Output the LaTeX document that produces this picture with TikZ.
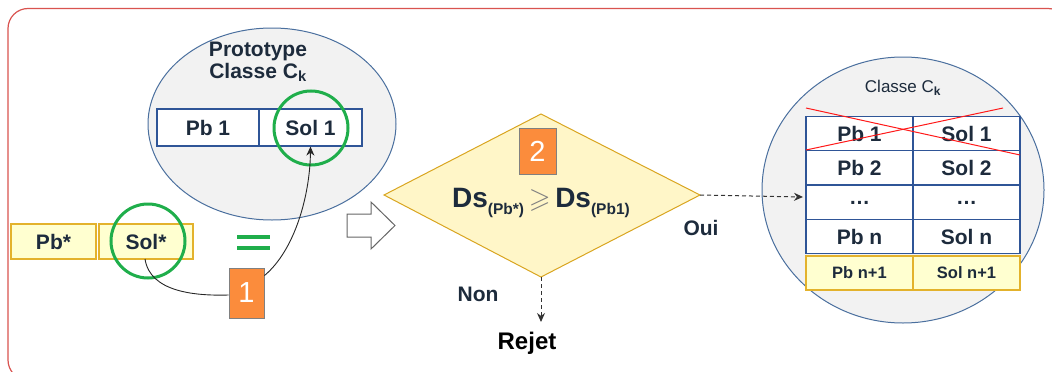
\documentclass[tikz,border=0pt]{standalone}
\usepackage{fontspec}
\setmainfont{Liberation Sans}
\usepackage{amssymb}
\usetikzlibrary{arrows.meta}
\definecolor{txt}{HTML}{1D2B3C}
\definecolor{orng}{HTML}{FB8C3C}
\definecolor{grn}{HTML}{1FAE4B}
\definecolor{yfill}{HTML}{FFFFD0}
\definecolor{ybord}{HTML}{E3B22C}
\definecolor{dfill}{HTML}{FFF6C8}
\definecolor{dbord}{HTML}{D9A520}
\definecolor{efill}{HTML}{F2F2F2}
\definecolor{ebord}{HTML}{4A6F9E}
\definecolor{tbord}{HTML}{2F5597}
\definecolor{frame}{HTML}{D9534F}
\newcommand{\threedots}{\ldots}
\begin{document}
\begin{tikzpicture}[x=1pt,y=-1pt,
  bigtxt/.style={font=\bfseries\fontsize{21}{25}\selectfont, text=txt},
  cell/.style={draw=tbord, line width=1.2pt, fill=white, inner sep=0pt, bigtxt},
  ycell/.style={draw=ybord, line width=1.2pt, fill=yfill, inner sep=0pt, bigtxt},
  numbox/.style={draw=gray, line width=0.8pt, fill=orng, inner sep=0pt, text=white, font=\fontsize{29}{32}\selectfont},
  greenring/.style={draw=grn, line width=3pt},
  blob/.style={draw=ebord, line width=1pt, fill=efill},
  dasharrow/.style={dash pattern=on 4pt off 3pt, line width=1pt, -{Stealth[length=9pt,width=8pt]}, black!80}
]
\useasboundingbox (0,0) rectangle (1052,372);
\begin{scope}
\clip (0,0) rectangle (1052,372);
\draw[frame, line width=1.2pt, rounded corners=20pt] (8,8.5) rectangle (1068,380);
\end{scope}

% left ellipse
\draw[blob] (272,124) ellipse [x radius=124, y radius=96];
\node[bigtxt, align=center] (proto) at (258,62) {Prototype\\[-3pt]Classe C$_{\mathbf{k}}$};
\node[cell, minimum width=102pt, minimum height=37pt] (pb1) at (208,127.5) {Pb 1};
\node[cell, minimum width=103pt, minimum height=37pt] (sol1) at (310.5,127.5) {Sol 1};
\draw[greenring] (311,128) circle [radius=37];

% Pb* Sol*
\node[ycell, minimum width=85pt, minimum height=35pt] (pbs) at (53.5,241.5) {Pb*};
\node[ycell, minimum width=94pt, minimum height=35pt] (sols) at (146,241.5) {Sol*};
\draw[greenring] (148,241) circle [radius=37];

% equals
\draw[grn, line width=4pt] (237,237) -- (270,237) (237,248) -- (270,248);

% box 1
\node[numbox, minimum width=35pt, minimum height=50pt] (one) at (246.5,293) {1};
\coordinate (solsb) at (145,259);
\draw[black!85, line width=0.9pt] (solsb) .. controls (150,292) and (195,296) .. (one.west |- 0,295);
\draw[black!85, line width=0.9pt, -{Stealth[length=9pt,width=8pt]}] (one.north east) ++(0,8) .. controls (295,250) and (310,195) .. (sol1.south);

% hollow arrow
\draw[gray!80!black, line width=1pt, fill=white] (347,214) -- (371,214) -- (371,202) -- (395,225.5) -- (371,249) -- (371,237) -- (347,237) -- cycle;

% right ellipse
\draw[blob] (903,190) ellipse [x radius=141, y radius=133];

% diamond
\draw[draw=dbord, line width=1pt, fill=dfill] (384,195) -- (541,114) -- (700,195) -- (541,277) -- cycle;
\coordinate (dleft) at (384,195);
\coordinate (dright) at (700,195);
\coordinate (dbot) at (541,277);
\node[numbox, minimum width=37pt, minimum height=46pt] (two) at (537.5,151) {2};
\node[text=txt, font=\bfseries\fontsize{28}{32}\selectfont, inner sep=0pt] (ds) at (541,203)
 {Ds\raisebox{-7pt}{\fontsize{15.5}{18}\selectfont(Pb*)}\,{\color{gray}\normalfont$\geqslant$}\,Ds\raisebox{-7pt}{\fontsize{15.5}{18}\selectfont(Pb1)}};
\node[bigtxt] (oui) at (701,228) {Oui};
\node[bigtxt] (non) at (478,294) {Non};
\node[font=\bfseries\fontsize{24}{28}\selectfont, text=black] (rejet) at (527,343) {Rejet};
\draw[dasharrow] (dbot) -- (541,322);

\node[text=txt, font=\fontsize{17}{20}\selectfont] (classe) at (903,88) {Classe C$_{\mathbf{k}}$};
\foreach \r/\y/\a/\b in {1/133.5/Pb 1/Sol 1, 2/167.5/Pb 2/Sol 2, 3/202.5/\threedots/\threedots, 4/236.5/Pb n/Sol n}{
  \node[cell, minimum width=107pt, minimum height=34pt] (pbr\r) at (859.5,\y) {\a};
  \node[cell, minimum width=107pt, minimum height=34pt] (solr\r) at (966.5,\y) {\b};
}
\node[ycell, minimum width=107pt, minimum height=34pt, font=\bfseries\fontsize{16.5}{19}\selectfont] (pbn1) at (859.5,273) {Pb n+1};
\node[ycell, minimum width=107pt, minimum height=34pt, font=\bfseries\fontsize{16.5}{19}\selectfont] (soln1) at (966.5,273) {Sol n+1};
\draw[red!90, line width=1pt] (806,108) -- (1020,155);
\draw[red!90, line width=1pt] (806,150) -- (1003,108);
\coordinate (arrend) at (803,197);
\draw[dasharrow] (dright) -- (arrend);
\end{tikzpicture}
\end{document}
